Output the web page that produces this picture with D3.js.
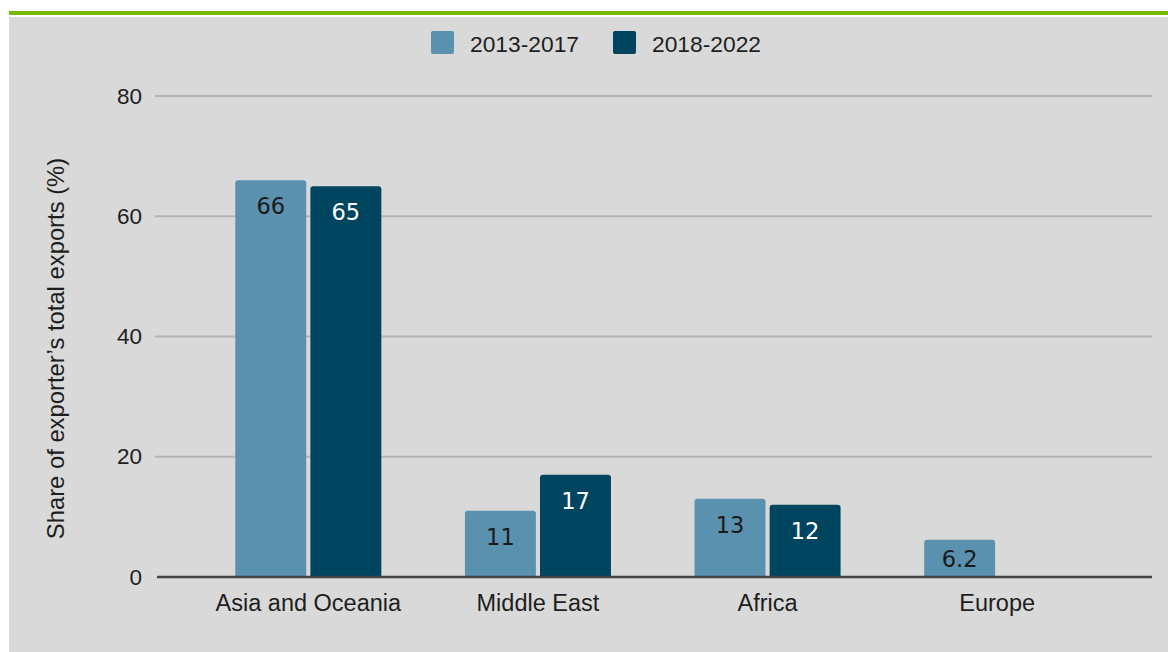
<!DOCTYPE html>
<html>
<head>
<meta charset="utf-8">
<script src="https://cdn.jsdelivr.net/npm/d3@7"></script>
<style>
  html, body { margin: 0; padding: 0; background: #fff; }
  svg { display: block; }
</style>
</head>
<body>
<svg id="chart" width="1168" height="652"></svg>
<script>
// Data
const regions = ['Asia and Oceania', 'Middle East', 'Africa', 'Europe'];
const periods = ['2013-2017', '2018-2022'];
const values2013 = [66, 11, 13, 6.2];
const values2018 = [65, 17, 12, null];
const yTicks = [0, 20, 40, 60, 80];
const colors = ['#5a91af', '#00455f'];
const labelColors = ['#1a1a1a', '#ffffff'];

const svg = d3.select('#chart');
const W = 1168, H = 652;
const sans = 'Liberation Sans, Arial, sans-serif';

// background panel + green rule on top
svg.append('rect').attr('x', 9).attr('y', 11).attr('width', W - 9).attr('height', 4).attr('fill', '#76b900');
svg.append('rect').attr('x', 9).attr('y', 17).attr('width', W - 9).attr('height', H - 17).attr('fill', '#d9d9d9');

const plot = { left: 157, right: 1152, top: 96, bottom: 577 };

const y = d3.scaleLinear().domain([0, 80]).range([plot.bottom, plot.top]);

const x0 = d3.scaleBand()
  .domain(regions)
  .range([193.5, 1112])
  .paddingInner(0.364)
  .paddingOuter(0.182);

const x1 = d3.scaleBand()
  .domain(periods)
  .range([0, x0.bandwidth()])
  .paddingInner(0.055);

// gridlines
svg.append('g')
  .selectAll('line')
  .data(yTicks.filter(d => d > 0))
  .join('line')
    .attr('x1', plot.left - 2)
    .attr('x2', plot.right)
    .attr('y1', d => y(d))
    .attr('y2', d => y(d))
    .attr('stroke', '#b4b4b4')
    .attr('stroke-width', 2);

// y axis labels
const yAxis = svg.append('g')
  .attr('transform', `translate(${plot.left}, 0)`)
  .call(d3.axisLeft(y).tickValues(yTicks).tickSize(0).tickPadding(15));
yAxis.select('.domain').remove();
yAxis.selectAll('text')
  .attr('font-family', sans)
  .attr('font-size', 22.5)
  .attr('fill', '#1e1e1e');

// y title
svg.append('text')
  .attr('transform', `translate(64, ${(plot.top + plot.bottom) / 2 + 12}) rotate(-90)`)
  .attr('text-anchor', 'middle')
  .attr('font-family', sans)
  .attr('font-size', 23.8)
  .attr('fill', '#1e1e1e')
  .text('Share of exporter\u2019s total exports (%)');

// bars
const rows = regions.map((r, i) => ({
  region: r,
  vals: [values2013[i], values2018[i]]
}));

const topRounded = (bx, by, bw, bh, r) => {
  r = Math.min(r, bh, bw / 2);
  return `M${bx},${by + bh}V${by + r}Q${bx},${by} ${bx + r},${by}H${bx + bw - r}Q${bx + bw},${by} ${bx + bw},${by + r}V${by + bh}Z`;
};

const groups = svg.append('g')
  .selectAll('g')
  .data(rows)
  .join('g')
    .attr('transform', d => `translate(${x0(d.region)}, 0)`);

const cells = groups.selectAll('g')
  .data(d => d.vals.map((v, k) => ({ period: periods[k], k, v })).filter(e => e.v != null))
  .join('g');

cells.append('path')
  .attr('d', d => topRounded(x1(d.period), y(d.v), x1.bandwidth(), y(0) - y(d.v), 3))
  .attr('fill', d => colors[d.k]);

cells.append('text')
  .attr('x', d => x1(d.period) + x1.bandwidth() / 2)
  .attr('y', d => Math.min(y(d.v) + 34, (y(d.v) + y(0)) / 2 + 9))
  .attr('text-anchor', 'middle')
  .attr('font-family', 'DejaVu Sans, sans-serif')
  .attr('font-size', 22.5)
  .attr('fill', d => labelColors[d.k])
  .text(d => d.v);

// baseline axis
svg.append('line')
  .attr('x1', plot.left)
  .attr('x2', plot.right)
  .attr('y1', y(0))
  .attr('y2', y(0))
  .attr('stroke', '#444')
  .attr('stroke-width', 2.5);

// x axis labels
const xAxis = svg.append('g')
  .attr('transform', `translate(0, ${y(0)})`)
  .call(d3.axisBottom(x0).tickSize(0).tickPadding(17));
xAxis.select('.domain').remove();
xAxis.selectAll('text')
  .attr('font-family', sans)
  .attr('font-size', 23.5)
  .attr('fill', '#1e1e1e');

// legend
const legend = svg.append('g')
  .selectAll('g')
  .data(periods)
  .join('g')
    .attr('transform', (d, i) => `translate(${[431, 613][i]}, 31)`);

legend.append('rect')
  .attr('width', 23)
  .attr('height', 23)
  .attr('rx', 2)
  .attr('fill', (d, i) => colors[i]);

legend.append('text')
  .attr('x', 39)
  .attr('y', 21)
  .attr('font-family', sans)
  .attr('font-size', 22.8)
  .attr('fill', '#1e1e1e')
  .text(d => d);
</script>
</body>
</html>
